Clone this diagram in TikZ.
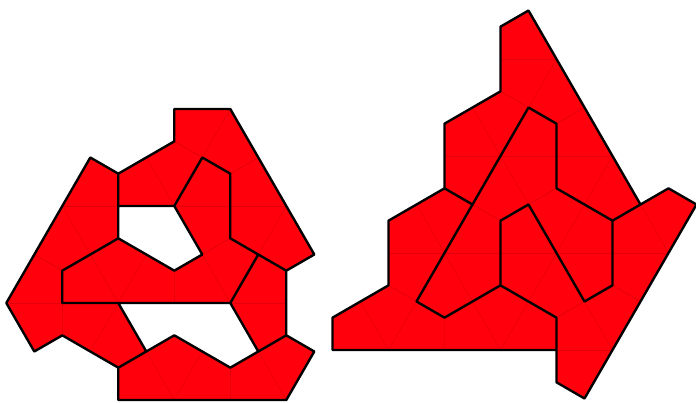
\documentclass[tikz,border=0pt]{standalone}
\usepackage{xcolor}
\usepackage{tikz}

\definecolor{kitered}{RGB}{255,0,12}
\definecolor{kiteline}{RGB}{226,0,12}

\newcommand{\hexcell}[2]{\draw[gridline] (#1,#2) ++(0,4) -- ++(2,-2) -- ++(0,-4) -- ++(-2,-2) -- ++(-2,2) -- ++(0,4) -- cycle;}
\newcommand{\kitegrid}{%
  \foreach \r in {-6,0,...,24} {\draw[gridline] (-8,\r) -- (18,\r);}
  \foreach \c in {-22,-18,...,26} {
    \draw[gridline] (\c-4,-12) -- (\c+8,24);
    \draw[gridline] (\c+4,-12) -- (\c-8,24);
  }
  \foreach \cy in {-12,0,12,24} {\foreach \cx in {-10,-6,...,18} {\hexcell{\cx}{\cy}}}
  \foreach \cy in {-6,6,18} {\foreach \cx in {-12,-8,...,16} {\hexcell{\cx}{\cy}}}
}

\begin{document}
\begin{tikzpicture}[gridline/.style={kiteline, line width=0.3pt},
    pieceedge/.style={black, line width=1.7pt, line join=round}]
    \useasboundingbox (0,0) rectangle (17.4,10.075);

    \begin{scope}[shift={(2.9575cm,0.075cm)}, x=0.7cm, y=0.404145cm]
        \def\kiteT{(0,14) -- (1,15) -- (2,16) -- (2,18) -- (4,18) -- (7,9) -- (6,8) -- (5,9) -- (4,10) -- (4,14) -- (3,15) -- (2,12) -- (0,12) -- cycle}
        \def\kiteL{(-4,6) -- (-1,15) -- (0,14) -- (0,12) -- (0,10) -- (-2,8) -- (-2,6) -- (0,6) -- (1,3) -- (0,2) -- (-1,3) -- (-2,4) -- (-3,3) -- cycle}
        \def\kiteM{(0,10) -- (1,9) -- (2,8) -- (3,9) -- (2,12) -- (3,15) -- (4,14) -- (4,10) -- (5,9) -- (4,6) -- (0,6) -- (-2,6) -- (-2,8) -- cycle}
        \def\kiteR{(4,6) -- (5,9) -- (6,8) -- (6,4) -- (5,3) -- cycle}
        \def\kiteB{(0,0) -- (0,2) -- (1,3) -- (2,4) -- (3,3) -- (4,2) -- (5,3) -- (6,4) -- (7,3) -- (6,0) -- cycle}
        \fill[kitered] \kiteT \kiteL \kiteM \kiteR \kiteB;
        \begin{scope}
            \clip \kiteT \kiteL \kiteM \kiteR \kiteB;
            \kitegrid
        \end{scope}
        \draw[pieceedge] \kiteT \kiteL \kiteM \kiteR \kiteB;
    \end{scope}

    \begin{scope}[shift={(8.3125cm,1.325cm)}, x=0.7cm, y=0.404145cm]
        \def\kiteA{(0,0) -- (0,2) -- (2,4) -- (2,8) -- (4,10) -- (5,9) -- (3,3) -- (4,2) -- (6,4) -- (7,3) -- (8,2) -- (8,0) -- cycle}
        \def\kiteB{(4,10) -- (4,14) -- (6,16) -- (6,20) -- (7,21) -- (11,9) -- (10,8) -- (9,9) -- (8,10) -- (8,14) -- (7,15) -- (5,9) -- cycle}
        \def\kiteC{(3,3) -- (7,15) -- (8,14) -- (8,10) -- (10,8) -- (10,4) -- (9,3) -- (7,9) -- (6,8) -- (6,4) -- (4,2) -- cycle}
        \def\kiteD{(8,0) -- (8,-2) -- (9,-3) -- (13,9) -- (12,10) -- (11,9) -- (10,8) -- (10,4) -- (9,3) -- (7,9) -- (6,8) -- (6,4) -- (7,3) -- (8,2) -- cycle}
        \fill[kitered] \kiteA \kiteB \kiteC \kiteD;
        \begin{scope}
            \clip \kiteA \kiteB \kiteC \kiteD;
            \kitegrid
        \end{scope}
        \draw[pieceedge] \kiteA \kiteB \kiteC \kiteD;
    \end{scope}
\end{tikzpicture}
\end{document}
